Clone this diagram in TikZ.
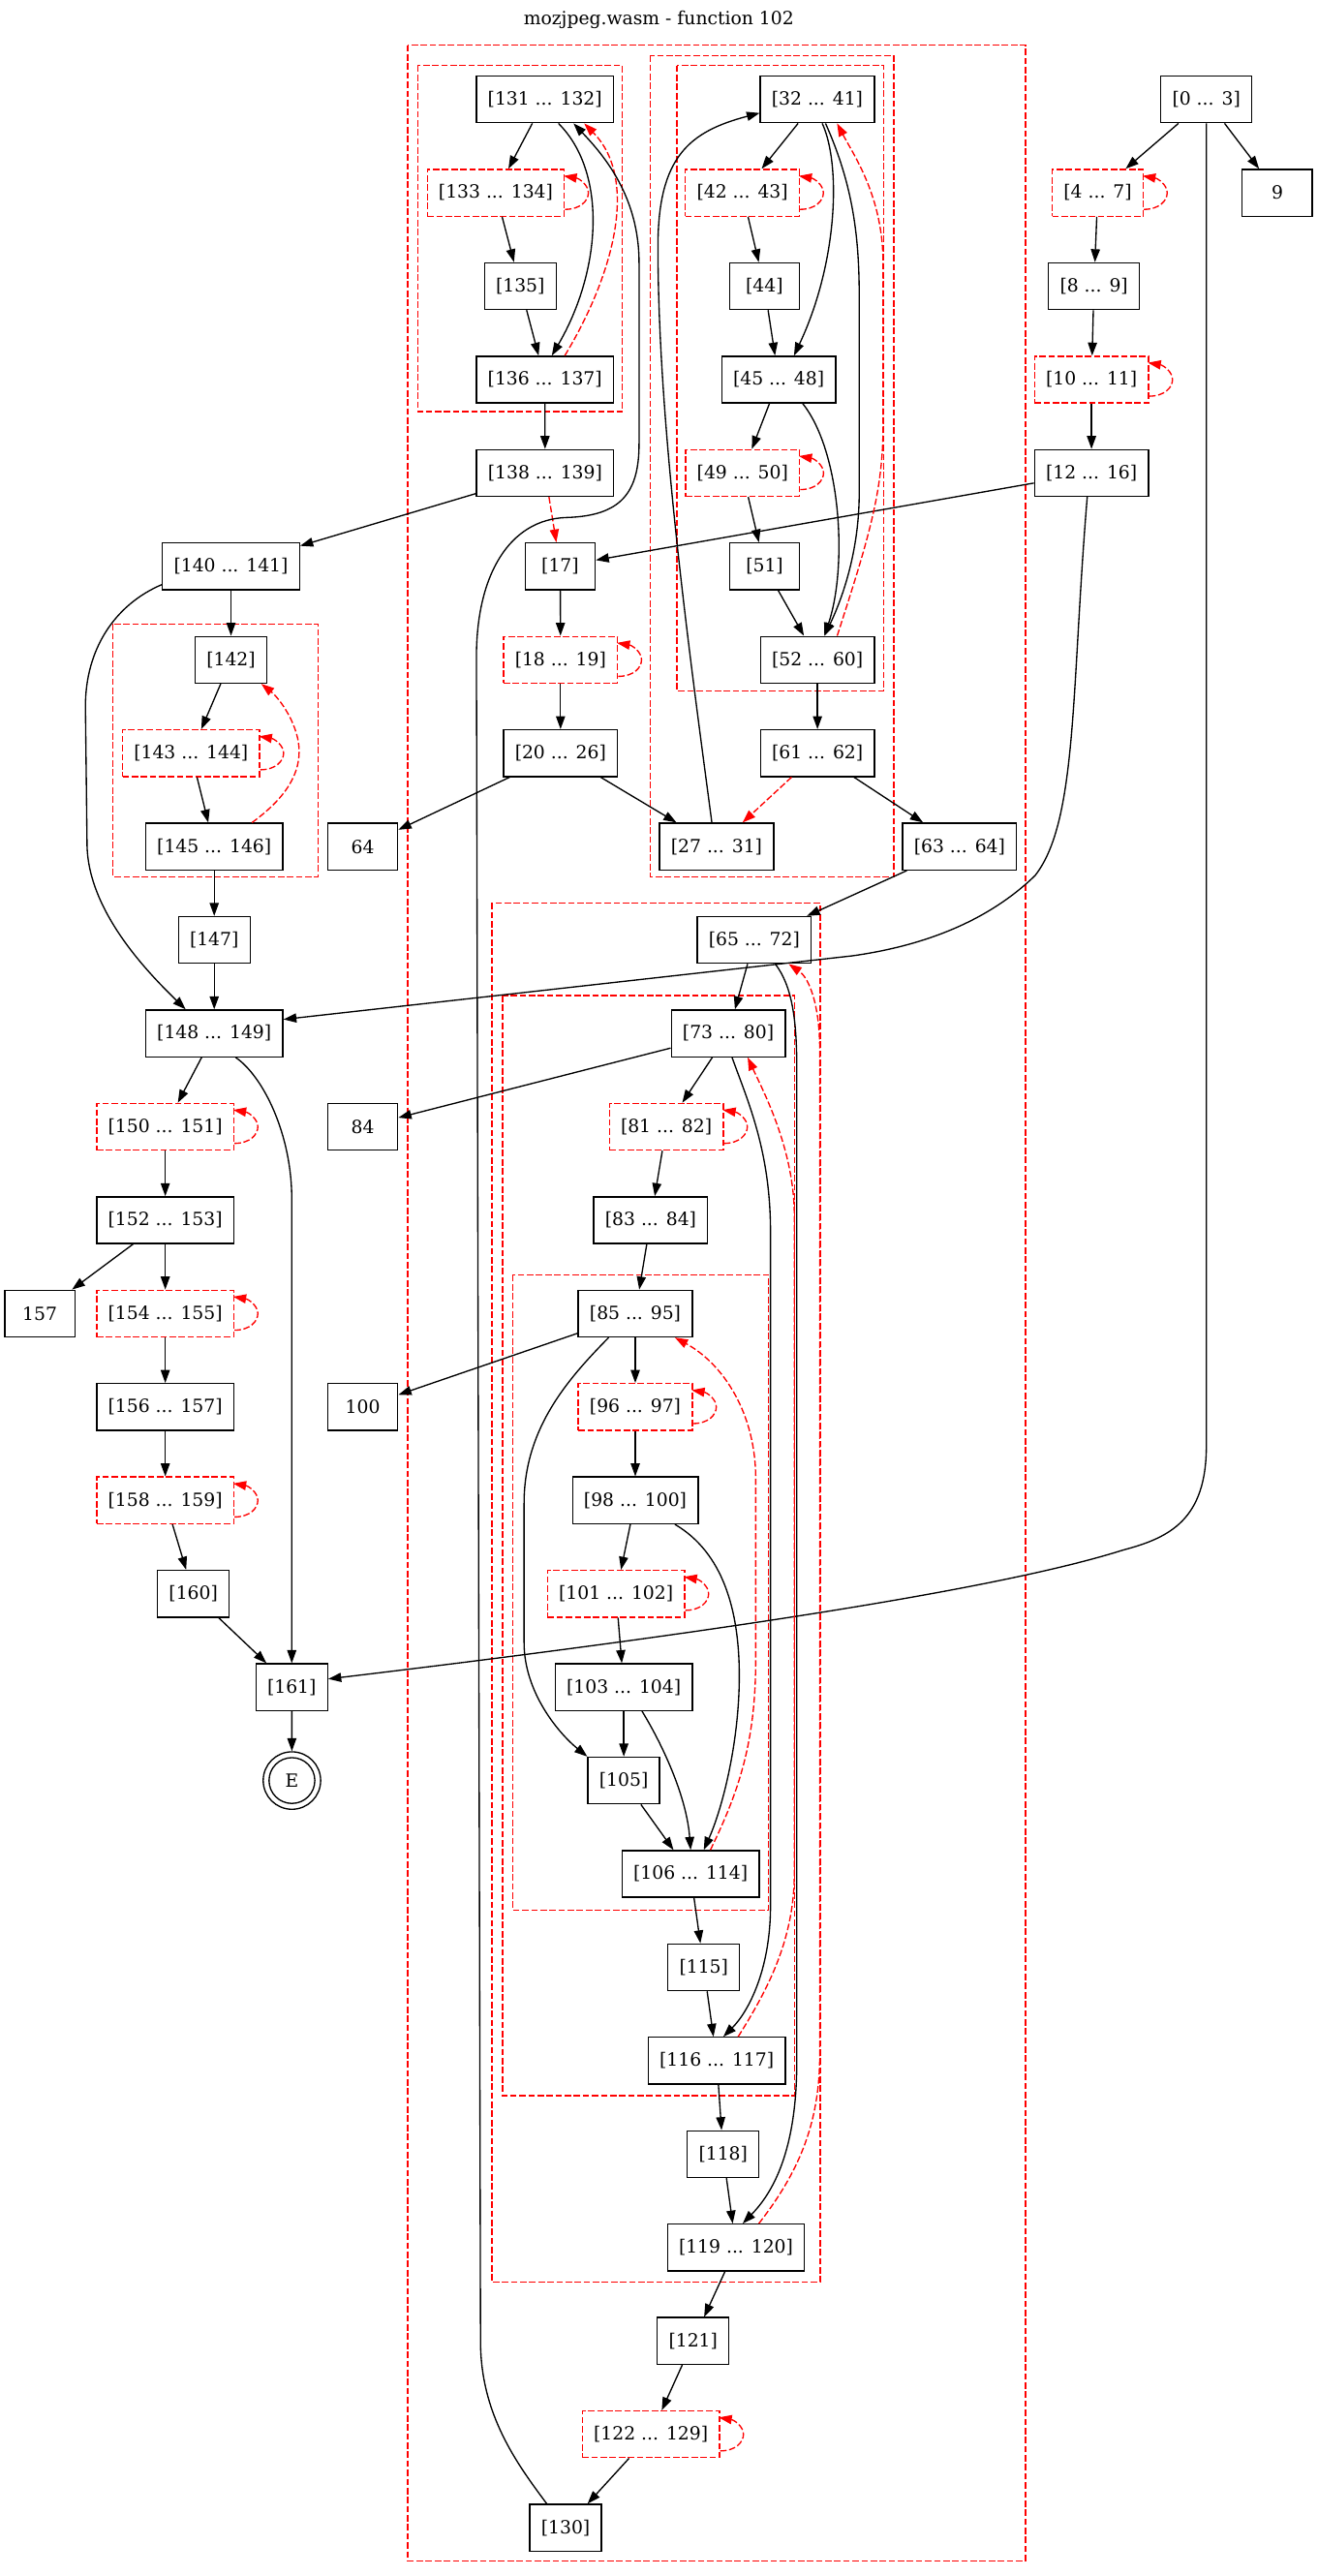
\documentclass[tikz,border=0pt]{standalone}
\usepackage{fontspec}
\setmainfont{DejaVu Serif}
\usetikzlibrary{arrows.meta,calc}
\newcommand\gvfont{\fontsize{14pt}{17pt}\selectfont}
\tikzset{
  gbox/.style={draw, line width=1pt, rectangle, minimum height=36pt, minimum width=54pt, inner xsep=8.8pt, inner ysep=1pt, font=\gvfont},
  rgbox/.style={gbox, draw=red, dash pattern=on 5pt off 2pt},
  clu/.style={draw=red, line width=1pt, dash pattern=on 5pt off 2pt},
  blk/.style={line width=1pt, -{Triangle[length=10pt,width=7pt]}},
  rdash/.style={blk, red, dash pattern=on 5pt off 2pt},
}
\newcommand\mkloop[1]{\draw[rdash] ([yshift=-12.8pt]#1.east) .. controls +(12pt,0pt) and +(0pt,-6pt) .. ([xshift=18pt]#1.east) .. controls +(0pt,6pt) and +(12pt,-2pt) .. ([xshift=-1pt,yshift=13pt]#1.east);}
\begin{document}
\begin{tikzpicture}[x=1.2665pt, y=-1.2665pt]
\useasboundingbox (0,0) rectangle (802,1568);
% title
\node[font=\gvfont] (title) at (401,11.8) {mozjpeg.wasm - function 102};
% clusters
\draw[clu] (248.2,27.5) rectangle (624.2,1558.7);
\draw[clu] (254.3,39.9) rectangle (378.8,250.6);
\draw[clu] (396,33.8) rectangle (544,533.7);
\draw[clu] (412,39.9) rectangle (537.9,420.4);
\draw[clu] (68.8,379.8) rectangle (193.6,533.7);
\draw[clu] (299.4,549.6) rectangle (499.3,1389.1);
\draw[clu] (305.9,606) rectangle (483.5,1275.7);
\draw[clu] (312.1,776) rectangle (467.8,1162.7);
% nodes right column
\node[gbox] (n0) at (734.3,60.5) {[0 ... 3]};
\node[gbox] (n9) at (777.5,117.35) {9};
\node[rgbox] (n4) at (668.2,117.35) {[4 ... 7]};
\node[gbox] (n8) at (665.9,174.2) {[8 ... 9]};
\node[rgbox] (n10) at (664.4,231.05) {[10 ... 11]};
\node[gbox] (n12) at (664.4,287.9) {[12 ... 16]};
% cluster A
\node[gbox] (n131) at (331.7,60.5) {[131 ... 132]};
\node[rgbox] (n133) at (301.8,117.35) {[133 ... 134]};
\node[gbox] (n135) at (316.7,174.2) {[135]};
\node[gbox] (n136) at (331.7,231.05) {[136 ... 137]};
\node[gbox] (n138) at (331.8,287.9) {[138 ... 139]};
\node[gbox] (n17) at (341,344.75) {[17]};
\node[rgbox] (n18) at (341.2,401.6) {[18 ... 19]};
\node[gbox] (n20) at (341.2,458.45) {[20 ... 26]};
\node[gbox] (n64) at (220.8,515.3) {64};
\node[gbox] (n27) at (436.2,515.3) {[27 ... 31]};
% cluster C
\node[gbox] (n32) at (497.5,60.5) {[32 ... 41]};
\node[rgbox] (n42) at (451.9,117.35) {[42 ... 43]};
\node[gbox] (n44) at (465.3,174.2) {[44]};
\node[gbox] (n45) at (474,231.05) {[45 ... 48]};
\node[rgbox] (n49) at (452,287.9) {[49 ... 50]};
\node[gbox] (n51) at (465.4,344.75) {[51]};
\node[gbox] (n52) at (497.6,401.6) {[52 ... 60]};
\node[gbox] (n61) at (497.6,458.45) {[61 ... 62]};
\node[gbox] (n63) at (584.1,515.3) {[63 ... 64]};
% left column
\node[gbox] (n140) at (140.6,344.75) {[140 ... 141]};
\node[gbox] (n142) at (140.6,401.6) {[142]};
\node[rgbox] (n143) at (116.3,458.45) {[143 ... 144]};
\node[gbox] (n145) at (130.4,515.3) {[145 ... 146]};
\node[gbox] (n147) at (130.4,572.15) {[147]};
\node[gbox] (n148) at (130.4,629) {[148 ... 149]};
\node[rgbox] (n150) at (100.6,685.85) {[150 ... 151]};
\node[gbox] (n152) at (100.6,742.7) {[152 ... 153]};
\node[gbox] (n157) at (24.2,799.55) {157};
\node[rgbox] (n154) at (100.6,799.55) {[154 ... 155]};
\node[gbox] (n156) at (100.6,856.4) {[156 ... 157]};
\node[rgbox] (n158) at (100.6,913.25) {[158 ... 159]};
\node[gbox] (n160) at (117.7,970.1) {[160]};
\node[gbox] (n161) at (177.6,1026.95) {[161]};
\node[draw, circle, line width=1pt, minimum size=44.3pt, inner sep=0pt, font=\gvfont] (nE) at (177.7,1083.8) {E};
\draw[line width=1pt] (nE.center) circle[radius=17.65pt];
\node[gbox] (n84) at (220.8,685.85) {84};
\node[gbox] (n100) at (220.8,856.4) {100};
% cluster D / E / F
\node[gbox] (n65) at (459.1,572.15) {[65 ... 72]};
\node[gbox] (n73) at (443.3,629) {[73 ... 80]};
\node[rgbox] (n81) at (405.6,685.85) {[81 ... 82]};
\node[gbox] (n83) at (396.1,742.7) {[83 ... 84]};
\node[gbox] (n85) at (386.7,799.55) {[85 ... 95]};
\node[rgbox] (n96) at (386.7,856.4) {[96 ... 97]};
\node[gbox] (n98) at (386.7,913.25) {[98 ... 100]};
\node[rgbox] (n101) at (375,970.1) {[101 ... 102]};
\node[gbox] (n103) at (379.7,1026.95) {[103 ... 104]};
\node[gbox] (n105) at (379.7,1083.8) {[105]};
\node[gbox] (n106) at (420.4,1140.65) {[106 ... 114]};
\node[gbox] (n115) at (428.4,1197.5) {[115]};
\node[gbox] (n116) at (436.3,1254.35) {[116 ... 117]};
\node[gbox] (n118) at (440.2,1311.2) {[118]};
\node[gbox] (n119) at (448,1368.05) {[119 ... 120]};
\node[gbox] (n121) at (421.9,1424.9) {[121]};
\node[rgbox] (n122) at (396.2,1481.75) {[122 ... 129]};
\node[gbox] (n130) at (344.3,1538.6) {[130]};
% straight edges
\draw[blk] (n0) -- (n4);
\draw[blk] (n0) -- (n9);
\draw[blk] (n4) -- (n8);
\draw[blk] (n8) -- (n10);
\draw[blk] (n10) -- (n12);
\draw[blk] (n12) -- (n17);
\draw[blk] (n131) -- (n133);
\draw[blk] (n133) -- (n135);
\draw[blk] (n135) -- (n136);
\draw[blk] (n136) -- (n138);
\draw[blk] (n138) -- (n140);
\draw[rdash] (n138) -- (n17);
\draw[blk] (n17) -- (n18);
\draw[blk] (n18) -- (n20);
\draw[blk] (n20) -- (n64);
\draw[blk] (n20) -- (n27);
\draw[blk] (n32) -- (n42);
\draw[blk] (n42) -- (n44);
\draw[blk] (n44) -- (n45);
\draw[blk] (n45) -- (n49);
\draw[blk] (n49) -- (n51);
\draw[blk] (n51) -- (n52);
\draw[blk] (n52) -- (n61);
\draw[rdash] (n61) -- (n27);
\draw[blk] (n61) -- (n63);
\draw[blk] (n63) -- (n65);
\draw[blk] (n65) -- (n73);
\draw[blk] (n73) -- (n84);
\draw[blk] (n73) -- (n81);
\draw[blk] (n81) -- (n83);
\draw[blk] (n83) -- (n85);
\draw[blk] (n85) -- (n100);
\draw[blk] (n85) -- (n96);
\draw[blk] (n96) -- (n98);
\draw[blk] (n98) -- (n101);
\draw[blk] (n101) -- (n103);
\draw[blk] (n103) -- (n105);
\draw[blk] (n105) -- (n106);
\draw[blk] (n106) -- (n115);
\draw[blk] (n115) -- (n116);
\draw[blk] (n116) -- (n118);
\draw[blk] (n118) -- (n119);
\draw[blk] (n119) -- (n121);
\draw[blk] (n121) -- (n122);
\draw[blk] (n122) -- (n130);
\draw[blk] (n140) -- (n142);
\draw[blk] (n142) -- (n143);
\draw[blk] (n143) -- (n145);
\draw[blk] (n145) -- (n147);
\draw[blk] (n147) -- (n148);
\draw[blk] (n148) -- (n150);
\draw[blk] (n150) -- (n152);
\draw[blk] (n152) -- (n157);
\draw[blk] (n152) -- (n154);
\draw[blk] (n154) -- (n156);
\draw[blk] (n156) -- (n158);
\draw[blk] (n158) -- (n160);
\draw[blk] (n160) -- (n161);
\draw[blk] (n161) -- (nE);
% curved edges
\draw[blk] (n0.south) -- (734.3,880) .. controls (734.3,925) and (712,936) .. (683.6,943.5) .. controls (600,970) and (400,998) .. ($(n161.east)+(0,-5)$);
\draw[blk] ($(n12.south)+(-2.6,0)$) .. controls (652,420) and (656,500) .. (630,533) .. controls (600,562) and (560,576) .. (518.9,581.8) -- ($(n148.east)+(0,-8.5)$);
\draw[blk] ($(n140.south west)+(0,-3.5)$) .. controls (70,368) and (52,395) .. (52,430) -- (53,515) .. controls (54,555) and (90,592) .. ($(n148.north)+(-17.4,0)$);
\draw[blk] ($(n148.south)+(13,0)$) .. controls (160,655) and (177.6,690) .. (177.6,730) -- (n161.north);
\draw[blk] ($(n131.south)+(8.2,0)$) .. controls (370,105) and (366,165) .. ($(n136.north)+(4.2,0)$);
\draw[rdash] ($(n136.north)+(12.1,0)$) .. controls (372,170) and (390,110) .. ($(n131.south)+(23.9,0)$);
\draw[blk] ($(n130.north)+(-11.5,0)$) .. controls (315,1500) and (292.5,1470) .. (292.5,1425) -- (290,400) .. controls (290,350) and (310,316) .. (345,315) .. controls (378,314) and (389,300) .. (389,270) -- (389,160) .. controls (389,120) and (368,95) .. ($(n131.south)+(17.4,0)$);
\draw[blk] ($(n27.north)+(-2.9,0)$) .. controls (420,400) and (400.5,260) .. (400.5,150) .. controls (400.5,95) and (420,80) .. ($(n32.west)+(0,8.3)$);
\draw[blk] ($(n32.south)+(3,0)$) .. controls (512,100) and (510,160) .. ($(n45.north)+(9.3,0)$);
\draw[blk] ($(n32.south)+(5,0)$) .. controls (518,110) and (523,140) .. (523,180) -- (523,300) .. controls (523,340) and (510,370) .. ($(n52.north)+(4.2,0)$);
\draw[blk] ($(n45.south)+(14.6,0)$) .. controls (512,275) and (516,345) .. ($(n52.north)+(4.2,0)$);
\draw[rdash] ($(n52.north)+(12,0)$) .. controls (528,330) and (537.5,300) .. (537.5,260) -- (537.5,160) .. controls (537.5,120) and (520,95) .. ($(n32.south)+(12,0)$);
\draw[blk] ($(n65.south)+(12.8,0)$) .. controls (482,600) and (485,620) .. (485,650) -- (485,1255) .. controls (485,1310) and (470,1335) .. ($(n119.north)+(4.1,0)$);
\draw[rdash] ($(n119.north)+(13.9,0)$) .. controls (488,1320) and (499,1290) .. (499,1250) -- (499,640) .. controls (499,610) and (492,595) .. ($(n65.south)+(21,0)$);
\draw[blk] ($(n73.south)+(2.3,0)$) .. controls (455,670) and (469,700) .. (469,750) -- (469,1160) .. controls (469,1200) and (455,1225) .. ($(n116.north)+(4,0)$);
\draw[rdash] ($(n116.north)+(13,0)$) .. controls (468,1210) and (483.5,1180) .. (483.5,1140) -- (483.5,740) .. controls (483.5,700) and (465,665) .. ($(n73.south)+(11.8,0)$);
\draw[blk] ($(n85.south)+(-16.2,0)$) .. controls (345,840) and (319,870) .. (319,915) -- (319,1000) .. controls (319,1030) and (340,1055) .. (n105.north west);
\draw[blk] ($(n98.south)+(24.1,0)$) .. controls (440,945) and (450,980) .. (450,1020) .. controls (450,1060) and (440,1100) .. ($(n106.north)+(8,0)$);
\draw[blk] ($(n103.south)+(11.1,0)$) .. controls (405,1065) and (418,1095) .. (n106.north);
\draw[rdash] ($(n106.north)+(12,0)$) .. controls (450,1090) and (460,1060) .. (460,1010) -- (460,900) .. controls (460,860) and (440,830) .. ($(n85.south)+(24.1,0)$);
\draw[rdash] ($(n145.north)+(23,0)$) .. controls (175,485) and (183,470) .. (182,455) .. controls (181,440) and (170,425) .. ($(n142.south east)+(-3.8,0)$);
% self loops
\mkloop{n4}
\mkloop{n10}
\mkloop{n133}
\mkloop{n42}
\mkloop{n49}
\mkloop{n18}
\mkloop{n143}
\mkloop{n150}
\mkloop{n154}
\mkloop{n158}
\mkloop{n81}
\mkloop{n96}
\mkloop{n101}
\mkloop{n122}
\end{tikzpicture}
\end{document}
